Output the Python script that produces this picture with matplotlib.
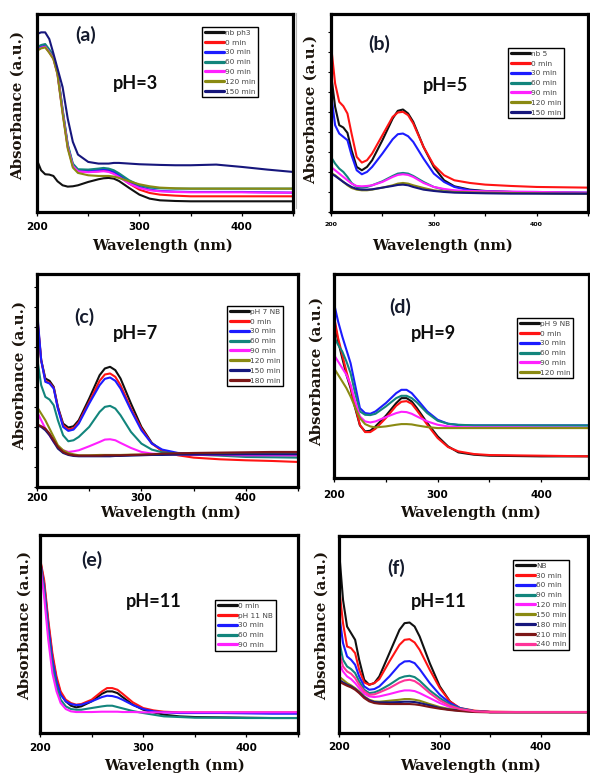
import matplotlib
matplotlib.use("Agg")
import matplotlib.pyplot as plt
from matplotlib.lines import Line2D
from matplotlib.ticker import MultipleLocator

# ---------------------------------------------------------------- data
# wavelength grid (nm) shared by every spectrum
WL = [200, 204, 208, 212, 216, 220, 225, 230, 235, 240, 250, 260, 265, 270,
      275, 280, 290, 300, 310, 320, 335, 350, 375, 400, 425, 450]

# (a) pH = 3
a_labels = ["nb ph3", "0 min", "30 min", "60 min", "90 min", "120 min", "150 min"]
a_nb = [1.55, 1.25, 1.13, 1.12, 1.08, 0.92, 0.80, 0.76, 0.77, 0.80, 0.90, 0.98, 1.01, 1.02, 1.00, 0.93, 0.72, 0.52, 0.40, 0.35, 0.33, 0.32, 0.32, 0.32, 0.32, 0.32]
a_0 = [4.85, 4.92, 4.95, 4.78, 4.60, 4.15, 3.00, 1.95, 1.38, 1.22, 1.20, 1.22, 1.24, 1.22, 1.16, 1.07, 0.85, 0.67, 0.57, 0.52, 0.49, 0.47, 0.47, 0.47, 0.47, 0.47]
a_30 = [4.88, 4.95, 4.98, 4.82, 4.63, 4.18, 3.05, 2.00, 1.42, 1.25, 1.23, 1.26, 1.28, 1.26, 1.20, 1.11, 0.90, 0.75, 0.67, 0.63, 0.61, 0.60, 0.60, 0.60, 0.59, 0.58]
a_60 = [4.93, 5.00, 5.03, 4.87, 4.68, 4.22, 3.08, 2.03, 1.45, 1.28, 1.27, 1.30, 1.32, 1.30, 1.25, 1.16, 0.95, 0.80, 0.73, 0.71, 0.70, 0.70, 0.70, 0.70, 0.70, 0.70]
a_90 = [4.85, 4.92, 4.95, 4.79, 4.60, 4.15, 3.00, 1.95, 1.38, 1.22, 1.19, 1.21, 1.22, 1.20, 1.14, 1.05, 0.85, 0.72, 0.65, 0.62, 0.60, 0.59, 0.59, 0.59, 0.58, 0.58]
a_120 = [4.83, 4.90, 4.93, 4.77, 4.58, 4.12, 2.95, 1.90, 1.33, 1.17, 1.10, 1.08, 1.08, 1.08, 1.06, 1.02, 0.92, 0.83, 0.77, 0.73, 0.71, 0.70, 0.70, 0.70, 0.70, 0.70]
a_150 = [5.33, 5.38, 5.38, 5.18, 4.75, 4.30, 3.74, 2.80, 2.10, 1.72, 1.50, 1.45, 1.45, 1.45, 1.47, 1.47, 1.45, 1.43, 1.42, 1.41, 1.40, 1.40, 1.42, 1.35, 1.27, 1.20]

# (b) pH = 5
b_labels = ["nb 5", "0 min", "30 min", "60 min", "90 min", "120 min", "150 min"]
b_nb = [4.15, 3.15, 2.60, 2.53, 2.37, 1.85, 1.35, 1.25, 1.35, 1.55, 2.15, 2.80, 3.03, 3.07, 2.95, 2.70, 1.95, 1.35, 0.95, 0.77, 0.67, 0.63, 0.60, 0.57, 0.56, 0.55]
b_0 = [5.00, 3.85, 3.30, 3.17, 2.95, 2.35, 1.65, 1.48, 1.55, 1.75, 2.30, 2.85, 2.98, 3.00, 2.90, 2.65, 1.95, 1.40, 1.10, 0.95, 0.87, 0.82, 0.78, 0.75, 0.74, 0.73]
b_30 = [3.55, 2.60, 2.35, 2.25, 2.15, 1.70, 1.25, 1.13, 1.20, 1.35, 1.75, 2.18, 2.33, 2.35, 2.27, 2.10, 1.60, 1.15, 0.90, 0.75, 0.65, 0.62, 0.60, 0.60, 0.59, 0.58]
b_60 = [1.65, 1.45, 1.30, 1.20, 1.05, 0.87, 0.75, 0.73, 0.75, 0.80, 0.92, 1.08, 1.15, 1.17, 1.15, 1.08, 0.90, 0.75, 0.67, 0.63, 0.61, 0.60, 0.60, 0.59, 0.58, 0.57]
b_90 = [1.35, 1.25, 1.15, 1.05, 0.95, 0.85, 0.78, 0.77, 0.78, 0.80, 0.90, 1.05, 1.11, 1.13, 1.11, 1.05, 0.87, 0.75, 0.69, 0.65, 0.63, 0.62, 0.61, 0.60, 0.59, 0.58]
b_120 = [1.17, 1.10, 1.00, 0.90, 0.80, 0.72, 0.67, 0.65, 0.65, 0.67, 0.73, 0.80, 0.85, 0.87, 0.85, 0.80, 0.72, 0.65, 0.62, 0.60, 0.59, 0.58, 0.57, 0.56, 0.55, 0.55]
b_150 = [1.15, 1.08, 0.99, 0.90, 0.82, 0.75, 0.69, 0.67, 0.67, 0.68, 0.73, 0.78, 0.81, 0.82, 0.80, 0.75, 0.67, 0.63, 0.60, 0.58, 0.57, 0.56, 0.55, 0.55, 0.55, 0.55]

# (c) pH = 7
c_labels = ["pH 7 NB", "0 min", "30 min", "60 min", "90 min", "120 min", "150 min", "180 min"]
c_nb = [5.10, 3.80, 3.25, 3.18, 3.00, 2.40, 1.90, 1.78, 1.82, 2.00, 2.65, 3.35, 3.55, 3.60, 3.50, 3.25, 2.50, 1.80, 1.32, 1.08, 0.98, 0.97, 0.96, 0.95, 0.95, 0.95]
c_0 = [5.20, 3.80, 3.18, 3.12, 2.97, 2.37, 1.85, 1.72, 1.76, 1.94, 2.55, 3.18, 3.37, 3.40, 3.30, 3.05, 2.35, 1.75, 1.30, 1.08, 0.95, 0.88, 0.83, 0.80, 0.78, 0.75]
c_30 = [5.30, 3.80, 3.15, 3.10, 2.95, 2.35, 1.80, 1.68, 1.72, 1.90, 2.50, 3.05, 3.24, 3.28, 3.18, 2.95, 2.30, 1.70, 1.30, 1.12, 1.02, 1.00, 1.00, 1.00, 1.00, 1.00]
c_60 = [3.90, 3.05, 2.70, 2.62, 2.45, 2.00, 1.55, 1.37, 1.40, 1.50, 1.80, 2.25, 2.40, 2.43, 2.35, 2.15, 1.65, 1.30, 1.12, 1.04, 1.00, 0.97, 0.94, 0.90, 0.89, 0.88]
c_90 = [2.25, 2.00, 1.75, 1.55, 1.35, 1.20, 1.10, 1.05, 1.07, 1.10, 1.22, 1.35, 1.42, 1.43, 1.40, 1.32, 1.17, 1.05, 1.00, 0.98, 0.97, 0.96, 0.96, 0.95, 0.95, 0.95]
c_120 = [2.40, 2.20, 2.00, 1.75, 1.50, 1.25, 1.10, 1.02, 0.98, 0.95, 0.95, 0.96, 0.96, 0.96, 0.96, 0.96, 0.97, 0.97, 0.97, 0.98, 0.98, 0.99, 0.99, 1.00, 1.00, 1.00]
c_150 = [1.85, 1.80, 1.70, 1.55, 1.35, 1.15, 1.02, 0.96, 0.93, 0.92, 0.92, 0.92, 0.92, 0.92, 0.93, 0.93, 0.94, 0.95, 0.96, 0.96, 0.97, 0.97, 0.97, 0.98, 0.98, 0.98]
c_180 = [1.88, 1.82, 1.75, 1.60, 1.40, 1.20, 1.05, 0.98, 0.95, 0.94, 0.94, 0.94, 0.95, 0.95, 0.95, 0.95, 0.96, 0.97, 0.98, 1.00, 1.01, 1.02, 1.03, 1.04, 1.05, 1.05]

# (d) pH = 9
d_labels = ["pH 9 NB", "0 min", "30 min", "60 min", "90 min", "120 min"]
d_nb = [4.75, 4.10, 3.60, 3.10, 2.70, 2.15, 1.58, 1.40, 1.42, 1.55, 1.87, 2.25, 2.40, 2.40, 2.30, 2.10, 1.65, 1.25, 0.95, 0.77, 0.70, 0.67, 0.66, 0.65, 0.65, 0.65]
d_0 = [4.85, 4.20, 3.70, 3.20, 2.75, 2.20, 1.60, 1.38, 1.38, 1.48, 1.80, 2.17, 2.29, 2.31, 2.23, 2.03, 1.60, 1.20, 0.93, 0.80, 0.72, 0.69, 0.68, 0.67, 0.66, 0.65]
d_30 = [5.25, 4.70, 4.25, 3.85, 3.45, 2.85, 2.10, 1.95, 1.93, 2.00, 2.25, 2.55, 2.65, 2.65, 2.55, 2.37, 2.00, 1.75, 1.63, 1.59, 1.58, 1.58, 1.58, 1.58, 1.58, 1.58]
d_60 = [4.25, 4.00, 3.80, 3.50, 3.15, 2.60, 2.00, 1.90, 1.89, 1.93, 2.15, 2.40, 2.47, 2.47, 2.40, 2.27, 1.95, 1.72, 1.63, 1.60, 1.58, 1.58, 1.58, 1.58, 1.58, 1.58]
d_90 = [3.70, 3.50, 3.30, 3.10, 2.80, 2.35, 1.85, 1.70, 1.67, 1.70, 1.83, 1.95, 1.99, 1.98, 1.93, 1.85, 1.70, 1.60, 1.55, 1.53, 1.52, 1.52, 1.52, 1.51, 1.51, 1.50]
d_120 = [3.30, 3.10, 2.90, 2.70, 2.45, 2.15, 1.80, 1.62, 1.55, 1.52, 1.55, 1.60, 1.62, 1.62, 1.61, 1.58, 1.53, 1.50, 1.50, 1.50, 1.50, 1.50, 1.50, 1.50, 1.50, 1.50]

# (e) pH = 11
e_labels = ["0 min", "pH 11 NB", "30 min", "60 min", "90 min"]
e_0 = [5.22, 4.50, 3.30, 2.30, 1.62, 1.20, 0.95, 0.82, 0.77, 0.80, 0.95, 1.18, 1.25, 1.25, 1.20, 1.08, 0.85, 0.70, 0.62, 0.55, 0.50, 0.48, 0.47, 0.46, 0.45, 0.45]
e_nb = [5.25, 4.60, 3.40, 2.40, 1.70, 1.25, 1.00, 0.90, 0.85, 0.87, 1.00, 1.25, 1.35, 1.35, 1.30, 1.18, 0.92, 0.75, 0.68, 0.64, 0.62, 0.62, 0.62, 0.62, 0.62, 0.62]
e_30 = [5.20, 4.40, 3.20, 2.20, 1.55, 1.15, 0.95, 0.87, 0.84, 0.85, 0.95, 1.08, 1.12, 1.11, 1.07, 1.00, 0.84, 0.72, 0.65, 0.62, 0.60, 0.60, 0.60, 0.59, 0.58, 0.58]
e_60 = [5.15, 4.30, 3.00, 2.00, 1.40, 1.00, 0.80, 0.72, 0.70, 0.70, 0.75, 0.80, 0.82, 0.82, 0.78, 0.74, 0.66, 0.60, 0.55, 0.50, 0.48, 0.46, 0.46, 0.45, 0.45, 0.45]
e_90 = [5.10, 4.10, 2.80, 1.80, 1.25, 0.90, 0.72, 0.65, 0.63, 0.63, 0.63, 0.64, 0.64, 0.64, 0.64, 0.63, 0.63, 0.62, 0.62, 0.62, 0.62, 0.62, 0.62, 0.62, 0.62, 0.62]

# (f) pH = 11, longer run
f_labels = ["NB", "30 min", "60 min", "90 min", "120 min", "150 min", "180 min", "210 min", "240 min"]
f_nb = [5.50, 4.00, 3.20, 3.00, 2.80, 2.20, 1.60, 1.45, 1.50, 1.70, 2.40, 3.10, 3.30, 3.32, 3.20, 2.90, 2.10, 1.40, 0.95, 0.72, 0.65, 0.63, 0.63, 0.63, 0.63, 0.63]
f_30 = [4.40, 3.30, 2.60, 2.55, 2.40, 1.90, 1.52, 1.45, 1.50, 1.62, 2.15, 2.65, 2.80, 2.82, 2.72, 2.50, 1.90, 1.35, 0.95, 0.75, 0.67, 0.64, 0.63, 0.63, 0.63, 0.63]
f_60 = [3.60, 2.70, 2.30, 2.20, 2.05, 1.70, 1.40, 1.30, 1.32, 1.40, 1.70, 2.05, 2.15, 2.16, 2.10, 1.92, 1.50, 1.15, 0.90, 0.75, 0.65, 0.63, 0.63, 0.63, 0.63, 0.63]
f_90 = [2.80, 2.20, 2.00, 1.92, 1.80, 1.55, 1.30, 1.20, 1.22, 1.28, 1.45, 1.65, 1.70, 1.72, 1.68, 1.57, 1.28, 1.05, 0.85, 0.74, 0.65, 0.63, 0.63, 0.63, 0.63, 0.63]
f_120 = [2.10, 1.85, 1.70, 1.62, 1.50, 1.35, 1.18, 1.10, 1.08, 1.10, 1.17, 1.25, 1.28, 1.28, 1.26, 1.20, 1.05, 0.90, 0.78, 0.70, 0.64, 0.63, 0.63, 0.63, 0.63, 0.63]
f_150 = [1.70, 1.60, 1.50, 1.43, 1.35, 1.25, 1.10, 1.00, 0.95, 0.94, 0.97, 1.00, 1.02, 1.02, 1.00, 0.97, 0.87, 0.78, 0.72, 0.68, 0.64, 0.63, 0.63, 0.63, 0.63, 0.63]
f_180 = [1.60, 1.52, 1.45, 1.40, 1.32, 1.22, 1.08, 0.98, 0.93, 0.92, 0.92, 0.93, 0.94, 0.94, 0.93, 0.90, 0.83, 0.75, 0.70, 0.67, 0.64, 0.63, 0.63, 0.63, 0.63, 0.63]
f_210 = [1.55, 1.48, 1.42, 1.37, 1.30, 1.20, 1.05, 0.95, 0.90, 0.88, 0.87, 0.87, 0.87, 0.87, 0.86, 0.84, 0.78, 0.73, 0.69, 0.66, 0.63, 0.62, 0.62, 0.62, 0.62, 0.62]
f_240 = [2.45, 2.00, 1.85, 1.78, 1.65, 1.45, 1.25, 1.15, 1.16, 1.22, 1.35, 1.52, 1.58, 1.60, 1.56, 1.46, 1.20, 0.98, 0.82, 0.72, 0.65, 0.63, 0.63, 0.63, 0.63, 0.63]

XTICKS = [200, 300, 400]

# ---------------------------------------------------------------- style
BLACK, RED, BLUE, TEAL = "#111111", "#ff1414", "#1c1cff", "#12857c"
MAGENTA, OLIVE, NAVY, MAROON, PINK = "#ff20ff", "#8a8a12", "#16167c", "#7c1616", "#ff3399"

W, H = 590, 773
fig = plt.figure(figsize=(W / 100, H / 100), dpi=100)
fig.patch.set_facecolor("white")


def fx(x):
    return x / W


def fy(y):
    return 1 - y / H


SERIF = ["DejaVu Serif"]
SANS_BOLD = ["Lato", "DejaVu Sans"]


def panel(box, xmax, ymax, series, labels, colors, tag, tag_xy, ph, ph_xy,
          leg_xy, xlab, ylab, tick_fs, tick_pad, yticks):
    left, top, right, bottom = box
    w, h = right - left, bottom - top
    ax = fig.add_axes([fx(left), fy(bottom), w / W, h / H])
    for vals, lab, col in zip(series, labels, colors):
        ax.plot(WL, vals, color=col, lw=1.5, label=lab,
                solid_joinstyle="round", solid_capstyle="round")
    ax.set_xlim(200, xmax)
    ax.set_ylim(0, ymax)

    for sp in ax.spines.values():
        sp.set_linewidth(2.3)
        sp.set_color("black")

    ax.set_xticks(XTICKS)
    ax.xaxis.set_minor_locator(MultipleLocator(50))
    ax.tick_params(axis="x", which="both", direction="out", length=3,
                   width=0.9, pad=tick_pad, labelsize=tick_fs)
    for t in ax.get_xticklabels():
        t.set_fontweight("bold")
        t.set_family("DejaVu Sans")
    if yticks:
        ax.yaxis.set_major_locator(MultipleLocator(0.6))
        ax.tick_params(axis="y", direction="out", length=2.5, width=0.8,
                       labelleft=False)
    else:
        ax.set_yticks([])

    # axis titles
    ax.set_xlabel("Wavelength (nm)", fontsize=10.5, fontweight="bold",
                  family=SERIF, color="#15100a")
    ax.xaxis.set_label_coords((xlab[0] - left) / w, (bottom - xlab[1]) / h)
    ax.xaxis.label.set_va("center")
    ax.set_ylabel("Absorbance (a.u.)", fontsize=10.8, fontweight="bold",
                  family=SERIF, color="#1c140c")
    ax.yaxis.set_label_coords((ylab[0] - left) / w, (bottom - ylab[1]) / h)
    ax.yaxis.label.set_va("center")
    ax.yaxis.label.set_ha("center")

    # legend
    leg = ax.legend(loc="upper left", bbox_to_anchor=(fx(leg_xy[0]), fy(leg_xy[1])),
                    bbox_transform=fig.transFigure, borderaxespad=0,
                    prop={"size": 5.3, "family": "DejaVu Sans"},
                    frameon=True, fancybox=False, edgecolor="black",
                    framealpha=1, handlelength=2.7, handletextpad=0.1,
                    borderpad=0.35, labelspacing=0.5)
    leg.get_frame().set_linewidth(1.0)
    for ln in leg.get_lines():
        ln.set_linewidth(2.3)
    for t in leg.get_texts():
        t.set_color("#454545")

    # panel tag and pH caption
    fig.text(fx(tag_xy[0]), fy(tag_xy[1]), tag, ha="center", va="center",
             fontsize=14, fontweight="bold", family=SANS_BOLD, color="#141a2c")
    fig.text(fx(ph_xy[0]), fy(ph_xy[1]), ph, ha="center", va="center",
             fontsize=13, fontweight="bold", family=SANS_BOLD, color="#0d0d0d")
    return ax


panel((37, 14, 293, 212), 450, 5.93,
      [a_nb, a_0, a_30, a_60, a_90, a_120, a_150], a_labels,
      [BLACK, RED, BLUE, TEAL, MAGENTA, OLIVE, NAVY],
      "(a)", (86, 35), "pH=3", (135, 84), (202, 27),
      (162, 246), (18, 105), 7.5, 4.0, False)

panel((331, 14, 588, 212), 450, 5.93,
      [b_nb, b_0, b_30, b_60, b_90, b_120, b_150], b_labels,
      [BLACK, RED, BLUE, TEAL, MAGENTA, OLIVE, NAVY],
      "(b)", (379, 44), "pH=5", (446, 85), (508, 48),
      (442, 246), (311, 109), 4.5, 4.0, True)

panel((37, 274, 298, 487), 450, 6.38,
      [c_nb, c_0, c_30, c_60, c_90, c_120, c_150, c_180], c_labels,
      [BLACK, RED, BLUE, TEAL, MAGENTA, OLIVE, NAVY, MAROON],
      "(c)", (84, 317), "pH=7", (135, 334), (227, 306),
      (170, 513), (20, 376), 7.5, 1.0, True)

panel((334, 274, 589, 478), 446, 6.13,
      [d_nb, d_0, d_30, d_60, d_90, d_120], d_labels,
      [BLACK, RED, BLUE, TEAL, MAGENTA, OLIVE],
      "(d)", (400, 307), "pH=9", (433, 334), (517, 318),
      (471, 513), (317, 372), 7.5, 5.5, False)

panel((40, 535, 298, 733), 450, 5.95,
      [e_0, e_nb, e_30, e_60, e_90], e_labels,
      [BLACK, RED, BLUE, TEAL, MAGENTA],
      "(e)", (92, 560), "pH=11", (154, 602), (215, 600),
      (175, 766), (25, 626), 7.5, 4.2, False)

panel((339, 536, 588, 733), 447, 5.92,
      [f_nb, f_30, f_60, f_90, f_120, f_150, f_180, f_210, f_240], f_labels,
      [BLACK, RED, BLUE, TEAL, MAGENTA, OLIVE, NAVY, MAROON, PINK],
      "(f)", (396, 568), "pH=11", (439, 602), (513, 560),
      (470, 766), (322, 626), 7.5, 3.6, False)

# thin divider at the left of panel (b)
fig.add_artist(Line2D([fx(296), fx(296)], [fy(13), fy(208)],
                      color="#b4b4b4", lw=0.8))

fig.savefig("out.png", dpi=100)
